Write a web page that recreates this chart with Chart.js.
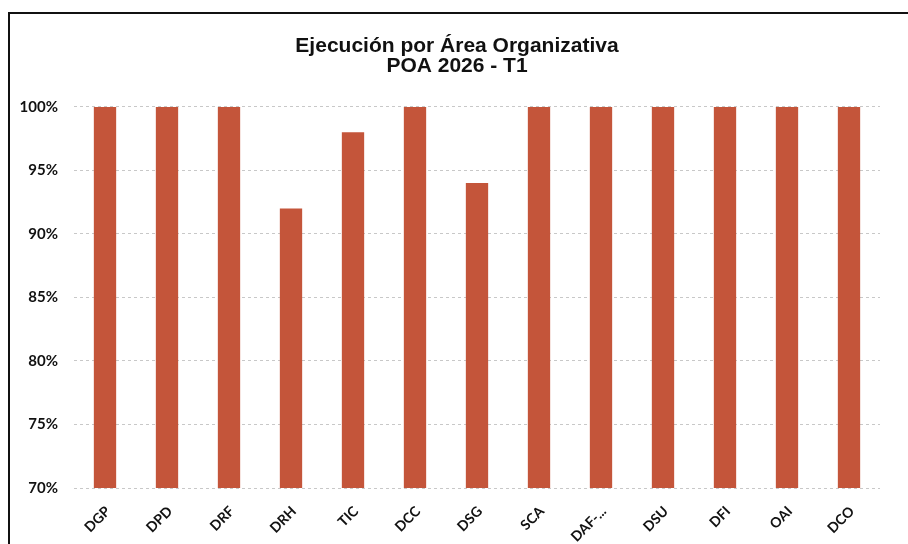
<!DOCTYPE html>
<html>
<head>
<meta charset="utf-8">
<script src="https://cdn.jsdelivr.net/npm/chart.js@4"></script>
<style>
    html, body { margin: 0; padding: 0; background: #fff; }
    #frame {
        position: absolute; left: 8px; top: 12px; width: 910px; height: 540px;
        border-top: 2px solid #111; border-left: 2px solid #111;
    }
    #wrap { position: absolute; left: 0; top: 0; width: 908px; height: 544px; }
</style>
</head>
<body>
<div id="frame"></div>
<div id="wrap"><canvas id="chart" width="908" height="544"></canvas></div>
<script>
// Áreas organizativas (eje X)
const areas = ['DGP', 'DPD', 'DRF', 'DRH', 'TIC', 'DCC', 'DSG', 'SCA', 'DAF-...', 'DSU', 'DFI', 'OAI', 'DCO'];
// Porcentaje de ejecución por área
const ejecucion = [100, 100, 100, 92, 98, 100, 94, 100, 100, 100, 100, 100, 100];
// Eje Y
const yMin = 70;
const yMax = 100;
const yStep = 5;
const titleLines = ['Ejecución por Área Organizativa', 'POA 2026 - T1'];

// let the y labels use the space left of the axis box (otherwise they get clipped)
const widenYLabels = {
    id: 'widenYLabels',
    afterLayout(chart) {
        chart.scales.y.left = 0;
    }
};

const ctx = document.getElementById('chart').getContext('2d');

new Chart(ctx, {
    type: 'bar',
    data: {
        labels: areas,
        datasets: [{
            label: 'Ejecución',
            data: ejecucion,
            backgroundColor: '#C4553A',
            borderWidth: 0,
            categoryPercentage: 1,
            barPercentage: 0.36
        }]
    },
    options: {
        responsive: false,
        animation: false,
        layout: {
            // left padding keeps the title centred like the original
            padding: { left: 34, right: 28, top: 0, bottom: 0 }
        },
        scales: {
            x: {
                grid: { display: false, drawTicks: false },
                border: { display: false },
                ticks: {
                    color: '#111',
                    font: { family: 'Lato', size: 14, weight: 'bold' },
                    minRotation: 45,
                    maxRotation: 45,
                    padding: 15,
                    labelOffset: 3
                },
                afterFit(scale) { scale.height = 56; }
            },
            y: {
                min: yMin,
                max: yMax,
                grid: { color: '#c8c8c8', lineWidth: 1, drawTicks: false },
                border: { display: false, dash: [3, 3] },
                ticks: {
                    stepSize: yStep,
                    color: '#111',
                    font: { family: 'Lato', size: 15, weight: 'bold' },
                    padding: 16,
                    callback: v => v + '%'
                },
                afterFit(scale) { scale.width = 40; }
            }
        },
        plugins: {
            legend: { display: false },
            tooltip: { enabled: false },
            title: {
                display: true,
                text: titleLines,
                color: '#111',
                font: { family: 'Liberation Sans', size: 21, weight: 'bold', lineHeight: 0.95 },
                padding: { top: 36, bottom: 31 }
            }
        }
    },
    plugins: [widenYLabels]
});
</script>
</body>
</html>
